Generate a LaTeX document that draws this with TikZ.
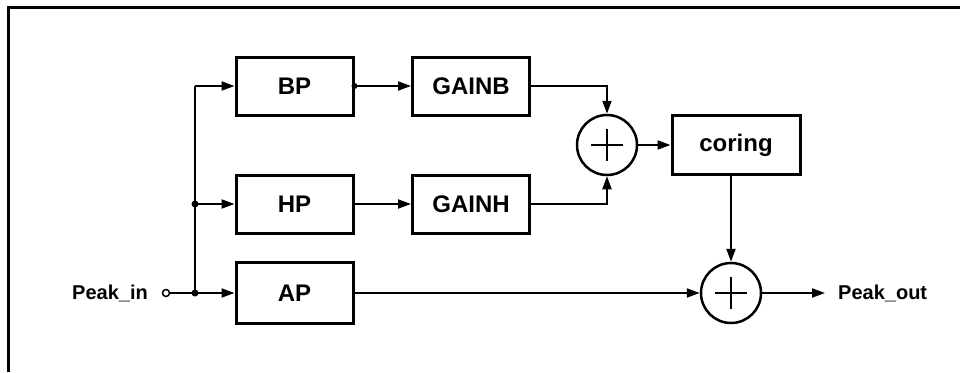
\documentclass[tikz,border=0pt]{standalone}
\usepackage{fontspec}
\setmainfont{Liberation Sans}
\usetikzlibrary{arrows.meta}
\begin{document}
\begin{tikzpicture}[x=1pt,y=-1pt,
  blk/.style={draw,line width=3pt,minimum width=117pt,minimum height=58pt,inner sep=0pt,font=\bfseries\fontsize{24}{28}\selectfont},
  sumc/.style={draw,circle,line width=2.5pt,minimum size=60pt,inner sep=0pt},
  conn/.style={line width=2pt,-{Triangle[length=13pt,width=9pt]}},
  wire/.style={line width=2pt},
  dotc/.style={circle,fill,inner sep=0pt,minimum size=7pt},
  lbl/.style={font=\bfseries\fontsize{20}{24}\selectfont,inner sep=0pt}]
\useasboundingbox (0,0) rectangle (960,372);
% frame
\draw[line width=3pt] (8,372) -- (8,7) -- (960,7);
% blocks
\node[blk] (bp) at (294.5,86) {BP};
\node[blk] (gainb) at (471,86) {GAINB};
\node[blk] (hp) at (294.5,204) {HP};
\node[blk] (gainh) at (471,204) {GAINH};
\node[blk,minimum height=61pt] (ap) at (294.5,293) {AP};
\node[blk,minimum width=128pt,minimum height=59pt] (coring) at (736,145) {coring};
\node[sumc] (s1) at (607,145) {};
\node[sumc] (s2) at (731,293) {};
\foreach \s in {s1,s2}{
  \draw[line width=2.5pt] ([xshift=-16pt]\s.center) -- ([xshift=16pt]\s.center);
  \draw[line width=2.5pt] ([yshift=-16pt]\s.center) -- ([yshift=16pt]\s.center);
}
% input
\node[lbl,anchor=east] (pin) at (148,293) {Peak\_in};
\node[circle,draw,line width=1.5pt,minimum size=7pt,inner sep=0pt] (inc) at (166,293) {};
\coordinate (j0) at (195,293);
\coordinate (j1) at (195,204);
\coordinate (j2) at (195,86);
\draw[conn] (inc) -- (ap.west);
\draw[wire] (j0) -- (j2);
\draw[conn] (j2) -- (bp.west);
\draw[conn] (j1) -- (hp.west);
\node[dotc] at (j0) {};
\node[dotc] at (j1) {};
\node[dotc,minimum size=6pt] at (bp.east) {};
% middle
\draw[conn] (bp.east) -- (gainb.west);
\draw[conn] (hp.east) -- (gainh.west);
\draw[conn] (gainb.east) -| (s1.north);
\draw[conn] (gainh.east) -| (s1.south);
\draw[conn] (s1.east) -- (coring.west);
\draw[conn] (s2 |- coring.south) -- (s2.north);
\draw[conn] (ap.east) -- (s2.west);
% output
\coordinate (outend) at (825,293);
\draw[conn] (s2.east) -- (outend);
\node[lbl,anchor=west] (pout) at (838,293) {Peak\_out};
\end{tikzpicture}
\end{document}
